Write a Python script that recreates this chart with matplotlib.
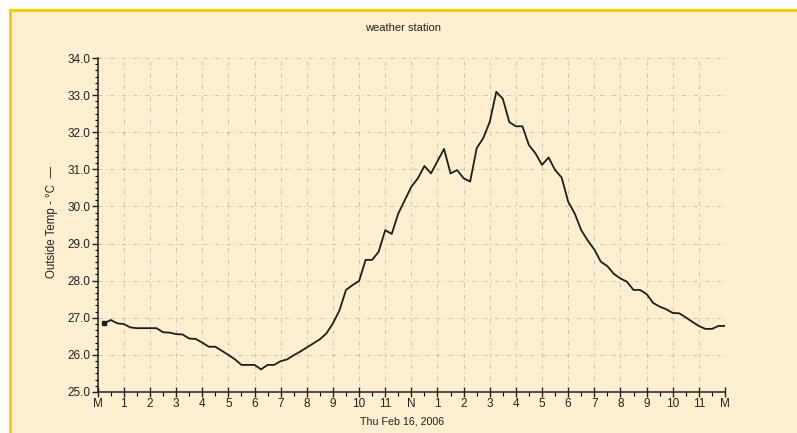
import numpy as np
import matplotlib
matplotlib.use("Agg")
import matplotlib.pyplot as plt
from matplotlib.patches import Rectangle
from matplotlib.lines import Line2D
from matplotlib.ticker import MultipleLocator, FixedLocator

plt.rcParams["font.family"] = ["Liberation Sans", "DejaVu Sans"]

# Outside temperature, 15-minute samples starting 00:15
temps = [
    26.85, 26.94, 26.85, 26.83, 26.74, 26.72, 26.72, 26.72,
    26.72, 26.61, 26.60, 26.56, 26.55, 26.44, 26.43, 26.33,
    26.22, 26.22, 26.11, 26.00, 25.88, 25.73, 25.73, 25.73,
    25.61, 25.73, 25.73, 25.83, 25.88, 25.99, 26.09, 26.20,
    26.31, 26.42, 26.58, 26.85, 27.20, 27.75, 27.88, 27.99,
    28.56, 28.56, 28.78, 29.36, 29.26, 29.81, 30.17, 30.53,
    30.76, 31.09, 30.89, 31.22, 31.55, 30.89, 30.98, 30.76,
    30.67, 31.57, 31.84, 32.28, 33.09, 32.90, 32.27, 32.16,
    32.16, 31.65, 31.43, 31.12, 31.32, 30.98, 30.78, 30.13,
    29.81, 29.36, 29.08, 28.84, 28.51, 28.39, 28.18, 28.06,
    27.97, 27.75, 27.75, 27.64, 27.40, 27.30, 27.23, 27.13,
    27.12, 27.01, 26.89, 26.78, 26.70, 26.70, 26.78, 26.78,
]
hours = np.arange(1, len(temps) + 1) * 0.25

hour_labels = ["M", "1", "2", "3", "4", "5", "6", "7", "8", "9", "10", "11", "N",
               "1", "2", "3", "4", "5", "6", "7", "8", "9", "10", "11", "M"]

W, H = 797, 433
fig = plt.figure(figsize=(W / 100, H / 100), dpi=100, facecolor="white")

# beige panel with yellow top/left border
x0, y0 = 10 / W, 10 / H
fig.patches.append(Rectangle((x0, 0), 1 - x0, 1 - y0, transform=fig.transFigure,
                             facecolor="#fdefd0", edgecolor="none", zorder=-5))
fig.add_artist(Line2D([x0, 1], [1 - y0, 1 - y0], transform=fig.transFigure,
                      color="#ffcc00", linewidth=2.2, zorder=-4))
fig.add_artist(Line2D([x0, x0], [0, 1 - y0], transform=fig.transFigure,
                      color="#ffcc00", linewidth=2.2, zorder=-4))

ax = fig.add_axes([97.7 / W, 1 - 392 / H, (725 - 97.7) / W, (392 - 58) / H])
ax.set_facecolor("none")
ax.set_zorder(2)

ax.plot(hours, temps, color="#1e1e1e", linewidth=1.3, zorder=3,
        marker="s", markersize=2.5, markevery=[0])

ax.set_xlim(0, 24)
ax.set_ylim(25, 34)

ax.xaxis.set_major_locator(FixedLocator(range(25)))
ax.set_xticklabels(hour_labels)
ax.xaxis.set_minor_locator(MultipleLocator(0.5))
ax.yaxis.set_major_locator(MultipleLocator(1.0))
ax.yaxis.set_minor_locator(MultipleLocator(1 / 6))
ax.yaxis.set_major_formatter("{x:.1f}")

ax.tick_params(axis="x", which="major", direction="inout", length=7, width=1,
               labelsize=8.5, pad=1, colors="#222222")
ax.tick_params(axis="x", which="minor", direction="out", length=3, width=0.8)
ax.tick_params(axis="y", which="major", direction="out", length=4, width=1,
               labelsize=8.5, pad=1, colors="#222222")
ax.tick_params(axis="y", which="minor", direction="out", length=2, width=0.8)

for s in ("top", "right"):
    ax.spines[s].set_visible(False)
for s in ("left", "bottom"):
    ax.spines[s].set_color("#222222")
    ax.spines[s].set_linewidth(1.1)

ax.grid(True, which="major", color="#8a8a8a", linewidth=0.6, alpha=0.5,
        linestyle=(0, (5, 4, 1, 4)))

fig.text(403 / W, 1 - 28 / H, "weather station", ha="center", va="center",
         fontsize=8, color="#222222")
fig.text(52 / W, 1 - 222 / H, "Outside Temp - °C  —", rotation=90,
         ha="center", va="center", fontsize=8.3, color="#222222")
fig.text(402 / W, 1 - 422 / H, "Thu Feb 16, 2006", ha="center", va="center",
         fontsize=7.7, color="#222222")

fig.savefig("out.png", dpi=100, facecolor="white")
